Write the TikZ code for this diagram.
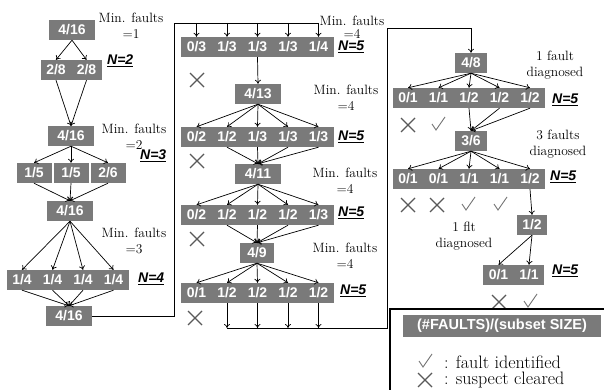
\documentclass[tikz,border=0pt]{standalone}
\usepackage{fontspec}
\setsansfont{Liberation Sans}
\usetikzlibrary{arrows.meta,positioning}

\begin{document}
\begin{tikzpicture}[
      x=1pt, y=-1pt,
      cell/.style={
          rectangle, fill=black!52, text=white,
          font=\sffamily\bfseries\fontsize{14}{14}\selectfont,
          inner sep=0pt, minimum width=30.8pt, minimum height=20pt
        },
      lone/.style={cell, minimum width=46pt},
      note/.style={align=center, inner sep=0pt, font=\fontsize{13.5}{16}\selectfont},
      nlab/.style={anchor=west, inner sep=0pt, font=\sffamily\bfseries\itshape\fontsize{14}{14}\selectfont},
      arr/.style={draw, -{To[length=4pt,width=6pt]}, line width=0.7pt},
      wire/.style={draw, line width=0.8pt},
      xm/.pic={\draw[black!65, line width=1.1pt] (-7,-7) -- (7,7) (-7,7) -- (7,-7);},
      ck/.pic={\draw[black!55, line width=0.9pt] (-6,-1) -- (-2,5) -- (7,-8);},
    ]
    \useasboundingbox (0,0) rectangle (604,390);

    % first column: N=2,3,4
    \node[lone] (a0) at (72,30) {4/16};
    \foreach \n/\d [count=\i] in {2/8,2/8}
      \node[cell] (a1-\i) at ({25.5+30.5*\i},70) {\n/\d};
    \node[lone] (b0) at (71,136) {4/16};
    \foreach \n/\d [count=\i] in {1/5,1/5,2/6}
      \node[cell, minimum width=35pt] (b1-\i) at ({-3+37*\i},173) {\n/\d};
    \node[lone] (c0) at (70,211) {4/16};
    \foreach \n/\d [count=\i] in {1/4,1/4,1/4,1/4}
      \node[cell] (c1-\i) at ({-8.5+30.5*\i},280) {\n/\d};
    \node[lone] (d0) at (69,316) {4/16};

    \foreach \i in {1,2} {
      \draw[arr] (a0.south) -- (a1-\i.north);
      \draw[arr] (a1-\i.south) -- (b0.north);
    }
    \foreach \i in {1,2,3} {
      \draw[arr] (b0.south) -- (b1-\i.north);
      \draw[arr] (b1-\i.south) -- (c0.north);
    }
    \foreach \i in {1,...,4} {
      \draw[arr] (c0.south) -- (c1-\i.north);
      \draw[arr] (c1-\i.south) -- (d0.north);
    }

    \node[note] (mf1) at (131,26) {Min. faults\\=1};
    \node[note] (mf2) at (134,137) {Min. faults\\=2};
    \node[note] (mf3) at (134,241) {Min. faults\\=3};
    \node[nlab] (n2) at (107,61) {\underline{N=2}};
    \node[nlab] (n3) at (140,156) {\underline{N=3}};
    \node[nlab] (n4) at (138,279) {\underline{N=4}};

    % second column: N=5
    \foreach \n/\d [count=\i] in {0/3,1/3,1/3,1/3,1/4}
      \node[cell] (r1-\i) at ({166+30.5*\i},47) {\n/\d};
    \node[lone] (m1) at (258,94) {4/13};
    \foreach \n/\d [count=\i] in {0/2,1/2,1/3,1/3,1/3}
      \node[cell] (r2-\i) at ({166+30.5*\i},137) {\n/\d};
    \node[lone] (m2) at (258,174) {4/11};
    \foreach \n/\d [count=\i] in {0/2,1/2,1/2,1/2,1/3}
      \node[cell] (r3-\i) at ({166+30.5*\i},215) {\n/\d};
    \node[lone, minimum width=34pt] (m3) at (257,253) {4/9};
    \foreach \n/\d [count=\i] in {0/1,1/2,1/2,1/2,1/2}
      \node[cell] (r4-\i) at ({166+30.5*\i},293) {\n/\d};

    \coordinate (tl) at (174,23);
    \coordinate (tr) at (318.5,23);
    \draw[wire] (d0.east) -| (tl) -- (tr);
    \foreach \i in {1,...,5}
      \draw[arr] (r1-\i.north |- tl) -- (r1-\i.north);
    \draw[arr] (r1-3.south) -- (m1.north);
    \foreach \i in {1,...,5} {
      \draw[arr] (m1.south) -- (r2-\i.north);
      \draw[arr] (m2.south) -- (r3-\i.north);
      \draw[arr] (m3.south) -- (r4-\i.north);
    }
    \foreach \i in {2,...,5} {
      \draw[arr] (r2-\i.south) -- (m2.north);
      \draw[arr] (r3-\i.south) -- (m3.north);
    }

    \pic at (197,80) {xm};
    \pic at (197,161) {xm};
    \pic at (197,239) {xm};
    \pic at (195,318) {xm};

    \node[note, font=\fontsize{13.5}{13}\selectfont] (mf4) at (352,27) {Min. faults\\=4};
    \node[note] (mf5) at (346,98) {Min. faults\\=4};
    \node[note] (mf6) at (345,181) {Min. faults\\=4};
    \node[note] (mf7) at (345,256) {Min. faults\\=4};
    \node[nlab] (n5a) at (338,47) {\underline{N=5}};
    \node[nlab] (n5b) at (338,137) {\underline{N=5}};
    \node[nlab] (n5c) at (338,213) {\underline{N=5}};
    \node[nlab] (n5d) at (340,291) {\underline{N=5}};

    % third column: diagnosis
    \coordinate (bl) at (227,328);
    \coordinate (br) at (387,328);
    \coordinate (tc) at (387,28);
    \foreach \i in {2,...,5}
      \draw[arr] (r4-\i.south) -- (r4-\i.south |- bl);
    \node[cell, minimum width=32pt] (t0) at (471,63) {4/8};
    \draw[arr] (bl) -- (br) -- (tc) -| (t0.north);

    \foreach \n/\d [count=\i] in {0/1,1/1,1/2,1/2,1/2}
      \node[cell] (s1-\i) at ({377.5+30.5*\i},98) {\n/\d};
    \node[cell, minimum width=32pt] (t1) at (471,141) {3/6};
    \foreach \n/\d [count=\i] in {0/1,0/1,1/1,1/1,1/2}
      \node[cell] (s2-\i) at ({377.5+30.5*\i},179) {\n/\d};
    \node[cell] (t2) at (532,225) {1/2};
    \foreach \n/\d [count=\i] in {0/1,1/1}
      \node[cell] (u-\i) at ({468+30.5*\i},275) {\n/\d};

    \foreach \i in {1,...,5} {
      \draw[arr] (t0.south) -- (s1-\i.north);
      \draw[arr] (t1.south) -- (s2-\i.north);
    }
    \foreach \i in {3,4,5}
      \draw[arr] (s1-\i.south) -- (t1.north);
    \draw[arr] (s2-5.south) -- (t2.north);
    \foreach \i in {1,2}
      \draw[arr] (t2.south) -- (u-\i.north);

    \pic at (408,125) {xm};
    \pic at (438,125) {ck};
    \pic at (408,205) {xm};
    \pic at (437,205) {xm};
    \pic at (468,205) {ck};
    \pic at (500,205) {ck};
    \pic at (499,302) {xm};
    \pic at (530,302) {ck};

    \node[note] (dg1) at (555,65) {1 fault\\diagnosed};
    \node[note] (dg2) at (558,144) {3 faults\\diagnosed};
    \node[note] (dg3) at (464,236) {1 flt\\diagnosed};
    \node[nlab] (n5e) at (552,100) {\underline{N=5}};
    \node[nlab] (n5f) at (550,177) {\underline{N=5}};
    \node[nlab] (n5g) at (552,271) {\underline{N=5}};

    % legend
    \draw[line width=1.6pt] (390,395) |- (610,309);
    \node[cell, minimum width=198pt, minimum height=22pt, font=\sffamily\bfseries\fontsize{14.5}{14.5}\selectfont] (key) at (502,326) {(\#FAULTS)/(subset SIZE)};
    \pic at (425,362) {ck};
    \node[anchor=west, inner sep=0pt, font=\fontsize{18}{18}\selectfont] (k1) at (444,362) {: fault identified};
    \pic at (425,380) {xm};
    \node[anchor=west, inner sep=0pt, font=\fontsize{18}{18}\selectfont] (k2) at (444,380) {: suspect cleared};
  \end{tikzpicture}
\end{document}
